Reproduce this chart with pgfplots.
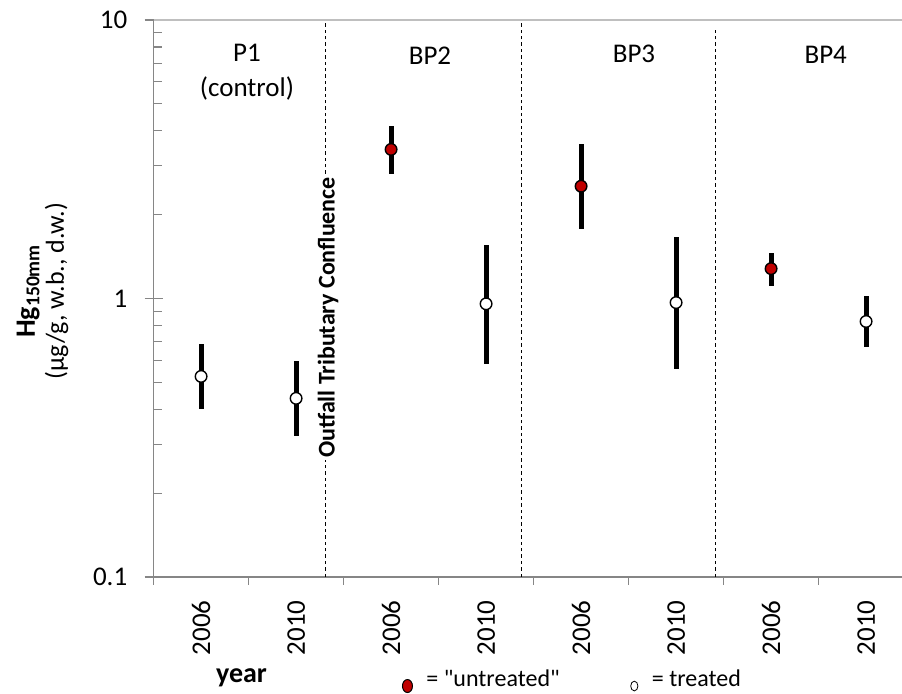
\documentclass[border=0pt]{standalone}
\usepackage{fontspec}
\setmainfont{Carlito}[Ligatures=TeXOff]
\usepackage{pgfplots}
\pgfplotsset{compat=1.18}
\usepackage{pgfplotstable}

\definecolor{axisgray}{HTML}{868686}
\definecolor{topgray}{HTML}{BFBFBF}
\definecolor{untreated}{HTML}{C00000}

% x = category index, y = Hg, ep/em = upper/lower error
\pgfplotstableread{
x y ep em
0 0.525 0.159 0.125
1 0.438 0.160 0.118
3 0.957 0.603 0.377
5 0.967 0.693 0.408
7 0.827 0.193 0.159
}\treated

\pgfplotstableread{
x y ep em
2 3.43 0.75 0.64
4 2.53 1.06 0.76
6 1.28 0.18 0.17
}\untreatedtab

\begin{document}
\begin{tikzpicture}
\path[use as bounding box] (-76.8pt,-58.5pt) rectangle (374.2pt,288.5pt);
\begin{axis}[
  at={(0,0)}, anchor=south west,
  scale only axis, width=374.2pt, height=278.5pt,
  clip=false,
  ymode=log, ymin=0.1, ymax=10,
  xmin=-0.5, xmax=7.378,
  axis lines*=left,
  axis line style={axisgray, line width=0.7pt, -},
  ytick={0.1,1,10}, yticklabels={0.1,1,10},
  minor ytick={0.2,0.3,0.4,0.5,0.6,0.7,0.8,0.9,2,3,4,5,6,7,8,9},
  xtick={0,...,7},
  xticklabels={2006,2010,2006,2010,2006,2010,2006,2010},
  minor xtick={-0.5,0.5,1.5,2.5,3.5,4.5,5.5,6.5},
  tick align=outside,
  major tick length=9pt, minor tick length=4pt,
  tick style={axisgray, line width=0.6pt},
  major x tick style={draw=none},
  major y tick style={xshift=4.5pt},
  minor y tick style={xshift=4pt},
  ticklabel style={font=\fontsize{13.5}{16}\selectfont},
  xticklabel style={rotate=90, anchor=east, inner sep=0pt},
  xticklabel shift=2.5pt,
  yticklabel style={inner xsep=0pt, xshift=-4pt},
  xlabel={year},
  xlabel style={at={(axis description cs:0.1174,-0.1813)}, anchor=center,
    font=\bfseries\fontsize{14}{16}\selectfont},
  ylabel={{\fontsize{14}{14.5}\selectfont\textbf{Hg\textsubscript{150mm}}}\\(µg/g, w.b., d.w.)},
  ylabel style={at={(axis description cs:-0.1483,0.5135)}, anchor=center,
    align=center, font=\fontsize{13}{14.5}\selectfont},
  legend columns=2,
  legend style={at={(axis description cs:0.332,-0.185)}, anchor=west,
    draw=none, fill=none, inner sep=0pt,
    font=\fontsize{12}{14}\selectfont,
    nodes={inner xsep=0pt},
    /tikz/every even column/.append style={column sep=35.5pt},
    /tikz/every odd column/.append style={column sep=7pt}},
  legend image code/.code={\draw[#1] plot coordinates {(0pt,-3pt)};},
]
% group separators
\addplot[black, line width=0.5pt, dash pattern=on 1.7pt off 1.5pt, forget plot]
  coordinates {(1.31,0.1) (1.31,10)};
\addplot[black, line width=0.5pt, dash pattern=on 1.7pt off 1.5pt, forget plot]
  coordinates {(3.37,0.1) (3.37,10)};
\addplot[black, line width=0.5pt, dash pattern=on 1.7pt off 1.5pt, forget plot]
  coordinates {(5.42,0.1) (5.42,9.4)};

\draw[topgray, line width=0.7pt] (rel axis cs:0,1) -- (rel axis cs:1,1);

\addplot[only marks, mark=*, mark size=2.9pt,
  mark options={fill=white, draw=black, line width=0.7pt}, forget plot,
  error bars/.cd, y dir=both, y explicit, error mark=none,
  error bar style={line width=2.5pt, black}]
  table[x=x, y=y, y error plus=ep, y error minus=em]{\treated};
\addplot[only marks, mark=*, mark size=2.9pt,
  mark options={fill=untreated, draw=black, line width=0.7pt}, forget plot,
  error bars/.cd, y dir=both, y explicit, error mark=none,
  error bar style={line width=2.5pt, black}]
  table[x=x, y=y, y error plus=ep, y error minus=em]{\untreatedtab};

\node[fill=white, inner sep=1pt, rotate=90, font=\bfseries\fontsize{12}{14}\selectfont]
  at (rel axis cs:0.2330,0.4659) {Outfall Tributary Confluence};
\node[align=center, font=\fontsize{13.5}{17.5}\selectfont]
  at (rel axis cs:0.1248,0.9057) {P1\\(control)};
\node[font=\fontsize{13.5}{16}\selectfont] at (rel axis cs:0.3693,0.9354) {BP2};
\node[font=\fontsize{13.5}{16}\selectfont] at (rel axis cs:0.6419,0.9390) {BP3};
\node[font=\fontsize{13.5}{16}\selectfont] at (rel axis cs:0.8981,0.9372) {BP4};

\addlegendimage{only marks, mark=*, mark size=2.5pt,
  mark options={fill=untreated, draw=black, line width=0.5pt, yscale=1.3}}
\addlegendentry{= "untreated"}
\addlegendimage{only marks, mark=o, mark size=1.8pt,
  mark options={draw=black, line width=0.4pt, yscale=1.35}}
\addlegendentry{= treated}
\end{axis}
\end{tikzpicture}
\end{document}
